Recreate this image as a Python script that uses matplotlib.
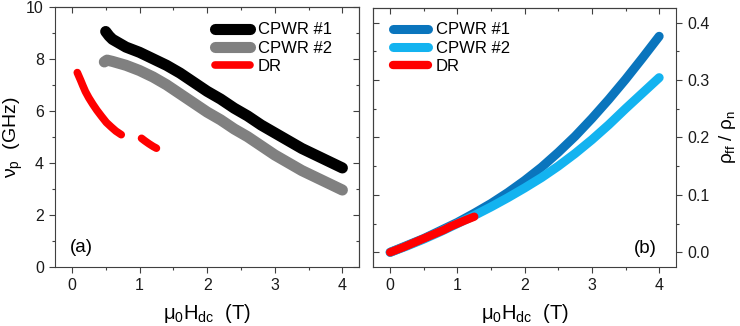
import numpy as np
import matplotlib
matplotlib.use("Agg")
import matplotlib.pyplot as plt
from matplotlib.ticker import MultipleLocator, FormatStrFormatter

plt.rcParams["font.family"] = ["Liberation Sans", "DejaVu Sans"]
plt.rcParams["mathtext.fontset"] = "custom"
plt.rcParams["mathtext.rm"] = "Liberation Sans"
plt.rcParams["mathtext.it"] = "Liberation Sans"
plt.rcParams["mathtext.default"] = "regular"

# ---- data ----
# (a) pinning frequency
h1_a = [0.50, 0.55, 0.60, 0.70, 0.80, 1.00, 1.20, 1.40, 1.60, 1.80, 2.00, 2.20, 2.40,
        2.60, 2.80, 3.00, 3.20, 3.40, 3.60, 3.80, 4.00]
nu1 = [9.05, 8.88, 8.75, 8.60, 8.45, 8.25, 8.00, 7.75, 7.45, 7.10, 6.75, 6.45, 6.10,
       5.80, 5.45, 5.15, 4.85, 4.55, 4.30, 4.05, 3.80]
h2_a = [0.48, 0.52, 0.60, 0.80, 1.00, 1.20, 1.40, 1.60, 1.80, 2.00, 2.20, 2.40, 2.60,
        2.80, 3.00, 3.20, 3.40, 3.60, 3.80, 4.00]
nu2 = [7.88, 7.95, 7.90, 7.75, 7.55, 7.30, 7.00, 6.65, 6.30, 5.95, 5.65, 5.30, 5.00,
       4.65, 4.30, 4.00, 3.70, 3.45, 3.20, 2.95]
hdr_a = [0.08, 0.10, 0.13, 0.16, 0.20, 0.25, 0.31, 0.37, 0.44, 0.51, 0.58, 0.65, 0.73,
         np.nan, 1.03, 1.08, 1.14, 1.20, 1.25]
nudr = [7.47, 7.35, 7.17, 6.98, 6.74, 6.50, 6.25, 6.02, 5.78, 5.55, 5.38, 5.22, 5.08,
        np.nan, 4.94, 4.84, 4.73, 4.63, 4.56]

# (b) flux-flow resistivity ratio
h_b = [0.00, 0.25, 0.50, 0.75, 1.00, 1.25, 1.50, 1.75, 2.00, 2.25, 2.50, 2.75, 3.00,
       3.25, 3.50, 3.75, 4.00]
rho1 = [0.000, 0.012, 0.024, 0.038, 0.052, 0.068, 0.085, 0.104, 0.125, 0.148, 0.174,
        0.202, 0.233, 0.266, 0.301, 0.338, 0.376]
rho2 = [0.000, 0.011, 0.023, 0.036, 0.050, 0.064, 0.079, 0.095, 0.112, 0.130, 0.150,
        0.172, 0.196, 0.222, 0.250, 0.277, 0.304]
hdr_b = [0.00, 0.20, 0.40, 0.60, 0.80, 0.90, 1.00, 1.10, 1.25]
rhodr = [0.000, 0.009, 0.019, 0.029, 0.039, 0.045, 0.050, 0.055, 0.062]

labels = ["CPWR #1", "CPWR #2", "DR"]

SPINE = "#404040"
RED = "#ff0000"

fig = plt.figure(figsize=(7.4, 3.26), dpi=100)
axa = fig.add_axes([0.0743, 0.182, 0.4112, 0.797])
axb = fig.add_axes([0.5045, 0.182, 0.409, 0.793])

kw = dict(solid_capstyle="round", solid_joinstyle="round")
axa.plot(h1_a, nu1, color="black", lw=8, label=labels[0], **kw)
axa.plot(h2_a, nu2, color="#808080", lw=8, label=labels[1], **kw)
axa.plot(hdr_a, nudr, color=RED, lw=5.5, label=labels[2], **kw)

axb.plot(h_b, rho1, color="#0a75bd", lw=6.5, label=labels[0], **kw)
axb.plot(h_b, rho2, color="#13b3f0", lw=6.5, label=labels[1], **kw)
axb.plot(hdr_b, rhodr, color=RED, lw=6, label=labels[2], **kw)


def mirror(sec, axis, major, minor, side):
    getattr(sec, axis).set_major_locator(MultipleLocator(major))
    getattr(sec, axis).set_minor_locator(MultipleLocator(minor))
    sec.tick_params(which="both", direction="in", color=SPINE, width=0.8,
                    **{"label" + side: False})
    sec.tick_params(which="major", length=4.5)
    sec.tick_params(which="minor", length=2.5)
    sec.spines[side].set_color(SPINE)
    sec.spines[side].set_linewidth(0.8)


for ax in (axa, axb):
    ax.set_xlim(-0.25, 4.25)
    ax.xaxis.set_major_locator(MultipleLocator(1))
    ax.xaxis.set_minor_locator(MultipleLocator(0.5))
    for s in ax.spines.values():
        s.set_color(SPINE)
        s.set_linewidth(0.8)
    ax.tick_params(which="both", direction="out", color=SPINE, labelsize=11.5,
                   labelcolor="#1a1a1a", width=0.8)
    ax.tick_params(which="major", length=4.5)
    ax.tick_params(which="minor", length=2.5)
    ax.set_xlabel(r"$\mu_0H_{dc}$  (T)", fontsize=14.5)
    ax.xaxis.set_label_coords(0.5, -0.135)
    mirror(ax.secondary_xaxis("top"), "xaxis", 1, 0.5, "top")

# (a)
axa.set_ylim(0, 10)
axa.yaxis.set_major_locator(MultipleLocator(2))
axa.yaxis.set_minor_locator(MultipleLocator(1))
axa.set_ylabel(r"$\nu_p$  (GHz)", fontsize=14)
axa.yaxis.set_label_coords(-0.10, 0.5)
mirror(axa.secondary_yaxis("right"), "yaxis", 2, 1, "right")
axa.text(0.05, 0.072, "(a)", transform=axa.transAxes, fontsize=13.5, va="center", ha="left")
axa.legend(loc="upper left", bbox_to_anchor=(0.526, 0.94), frameon=False, fontsize=12,
           handlelength=2.1, handletextpad=0.45, labelspacing=0.2, borderpad=0,
           borderaxespad=0)

# (b)
axb.set_ylim(-0.025, 0.425)
axb.yaxis.set_major_locator(MultipleLocator(0.1))
axb.yaxis.set_minor_locator(MultipleLocator(0.05))
axb.yaxis.tick_right()
axb.yaxis.set_label_position("right")
axb.yaxis.set_major_formatter(FormatStrFormatter("%.1f"))
axb.set_ylabel(r"$\rho_{ff}$ / $\rho_n$", fontsize=13.5)
axb.yaxis.set_label_coords(1.135, 0.5)
mirror(axb.secondary_yaxis("left"), "yaxis", 0.1, 0.05, "left")
axb.text(0.937, 0.072, "(b)", transform=axb.transAxes, fontsize=13.5, va="center", ha="right")
axb.legend(loc="upper left", bbox_to_anchor=(0.065, 0.945), frameon=False, fontsize=12,
           handlelength=2.1, handletextpad=0.45, labelspacing=0.2, borderpad=0,
           borderaxespad=0)

fig.savefig("out.png", dpi=100, facecolor="white")
